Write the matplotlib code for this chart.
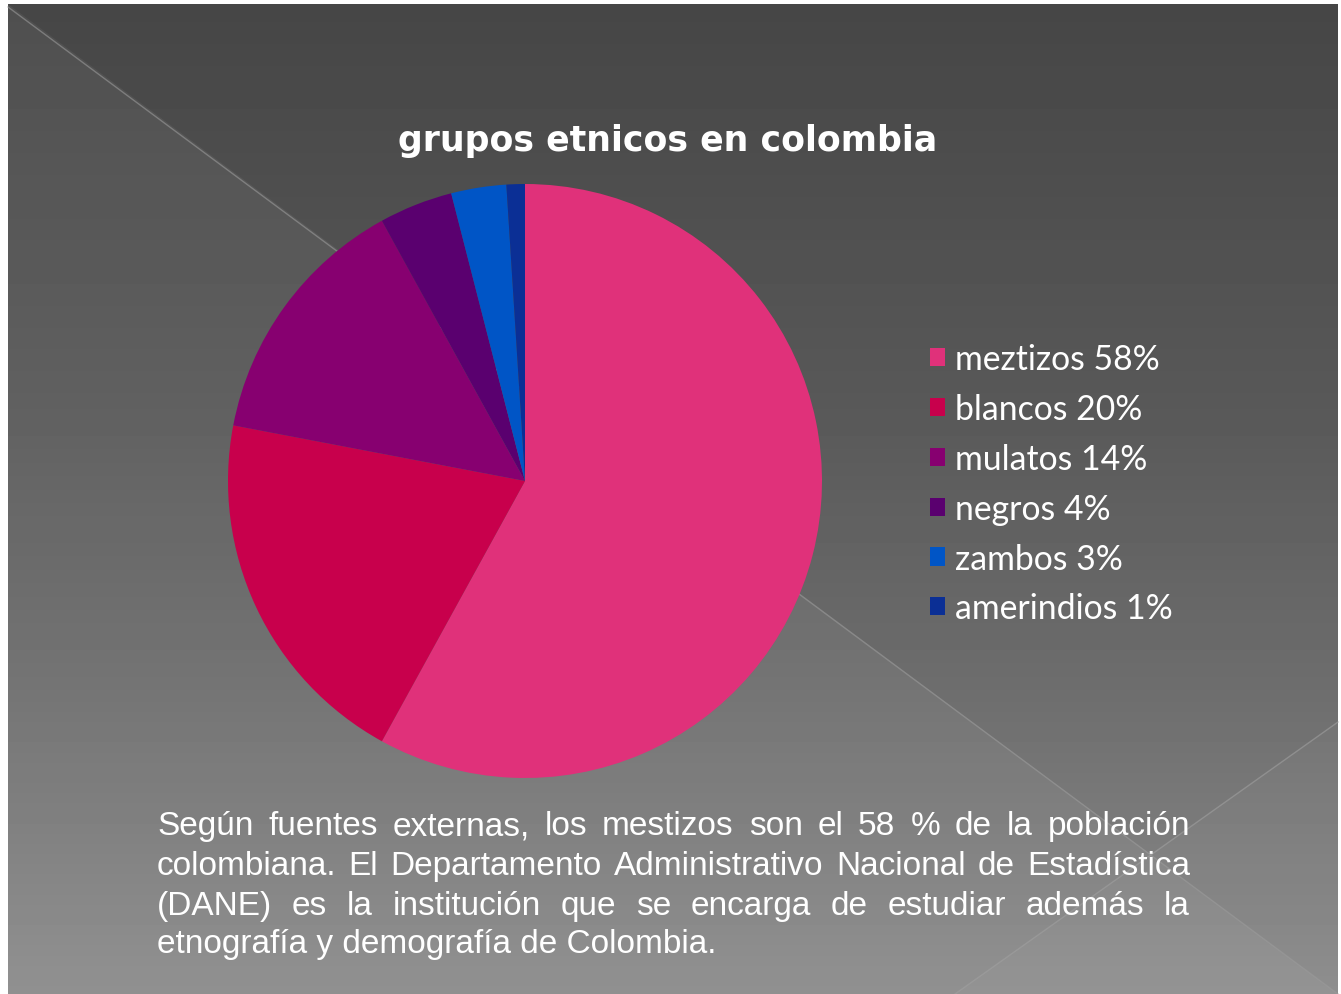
import matplotlib
matplotlib.use("Agg")
import matplotlib.pyplot as plt
import numpy as np
from matplotlib.patches import Polygon

# ---- data ----
categories = ["meztizos", "blancos", "mulatos", "negros", "zambos", "amerindios"]
values = [58, 20, 14, 4, 3, 1]
colors = ["#E0317A", "#C8004C", "#870070", "#5A006F", "#0055C6", "#0B2F95"]
title = "grupos etnicos en colombia"
body_lines = [
    "Según fuentes externas, los mestizos son el 58 % de la población",
    "colombiana. El Departamento Administrativo Nacional de Estadística",
    "(DANE) es la institución que se encarga de estudiar además la",
    "etnografía y demografía de Colombia.",
]

W, H = 1341, 995
fig = plt.figure(figsize=(W / 100, H / 100), dpi=100)
fig.patch.set_facecolor("white")

# ---- background (pixel coordinates) ----
bg = fig.add_axes([0, 0, 1, 1])
bg.set_xlim(0, W)
bg.set_ylim(H, 0)
bg.axis("off")
x0, y0, x1, y1 = 8, 5, 1338, 995
ys = np.linspace(0, 1, 200)
stops_y = [0, 0.4, 0.7, 1.0]
stops_v = [70, 88, 110, 139]
vals = np.interp(ys, stops_y, stops_v) / 255.0
grad = np.repeat(vals[:, None], 2, axis=1)
bg.imshow(grad, cmap="gray", vmin=0, vmax=1, extent=[x0, x1, y1, y0],
          aspect="auto", interpolation="bilinear", zorder=0)
bg.add_patch(Polygon([[x0, y0], [x1, y1], [x0, y1]], closed=True,
                     facecolor="white", alpha=0.05, edgecolor="none", zorder=1))
bg.add_patch(Polygon([[955, y1], [x1, 723], [x1, y1]], closed=True,
                     facecolor="white", alpha=0.03, edgecolor="none", zorder=1))
bg.plot([x0, x1], [y0 + 3, y1], color="#9a9a9a", lw=1.0, alpha=0.6, zorder=2)
bg.plot([955, x1], [y1, 723], color="#a0a0a0", lw=1.0, alpha=0.6, zorder=2)

# ---- title ----
bg.text(668, 151, title, ha="center", va="baseline", color="white",
        fontsize=25, fontweight="bold", family=["DejaVu Sans"], zorder=5)

# ---- pie ----
cx, cy, r = 525, 482, 297
pax = fig.add_axes([(cx - r) / W, (H - cy - r) / H, 2 * r / W, 2 * r / H])
wedges, _ = pax.pie(values, colors=colors, startangle=90, counterclock=False,
                    radius=1, wedgeprops=dict(linewidth=0))
pax.set_xlim(-1, 1)
pax.set_ylim(-1, 1)
pax.set_aspect("equal")
pax.axis("off")

# ---- legend ----
labels = [f"{c} {v}%" for c, v in zip(categories, values)]
leg = fig.legend(wedges, labels, loc="upper left",
                 bbox_to_anchor=(930 / W, 1 - 344 / H), frameon=False,
                 prop=dict(family=["Lato", "DejaVu Sans"], size=24.3),
                 labelcolor="white", handlelength=0.45, handleheight=0.45,
                 handletextpad=0.3, labelspacing=0.53, borderpad=0, borderaxespad=0)

# ---- justified body text ----
fig.canvas.draw()
renderer = fig.canvas.get_renderer()
left, right = 157, 1190
base = [835, 875, 915, 953]
tprops = dict(color="white", fontsize=24, family=["Liberation Sans", "DejaVu Sans"],
              va="baseline", ha="left", zorder=5)
for i, line in enumerate(body_lines):
    words = line.split(" ")
    if i == len(body_lines) - 1:
        bg.text(left, base[i], line, **tprops)
        continue
    objs = [bg.text(0, base[i], w, **tprops) for w in words]
    widths = [o.get_window_extent(renderer).width for o in objs]
    gap = (right - left - sum(widths)) / (len(words) - 1)
    x = left
    for o, w in zip(objs, widths):
        o.set_x(x)
        x += w + gap

fig.savefig("out.png", dpi=100, facecolor=fig.get_facecolor())
